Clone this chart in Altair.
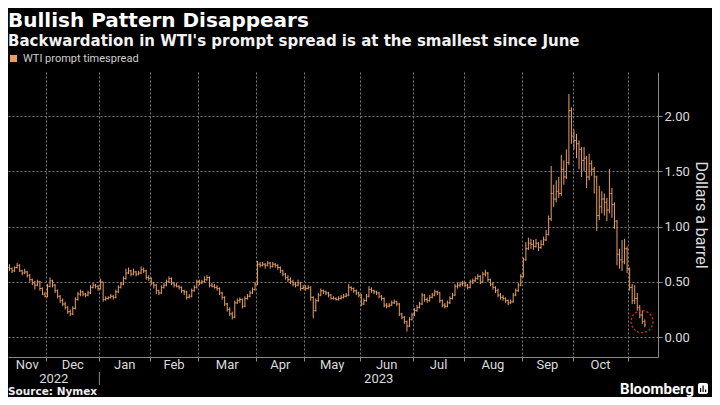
import altair as alt
import pandas as pd

# ---------------- text ----------------
TITLE = "Bullish Pattern Disappears"
SUBTITLE = "Backwardation in WTI's prompt spread is at the smallest since June"
SERIES = "WTI prompt timespread"
SOURCE = "Source: Nymex"
BRAND = "Bloomberg"
Y_TITLE = "Dollars a barrel"

# ---------------- calendar (trading days) ----------------
START = "2022-11-09"
END = "2023-11-09"
HOLIDAYS = ["2022-11-24", "2022-12-26", "2023-01-02", "2023-01-16", "2023-02-20",
            "2023-04-07", "2023-05-29", "2023-06-19", "2023-07-04", "2023-09-04"]
MONTH_LABELS = ["Nov", "Dec", "Jan", "Feb", "Mar", "Apr", "May", "Jun", "Jul", "Aug", "Sep", "Oct"]
YEAR_LABELS = ["2022", "2023"]
Y_TICKS = [0.0, 0.5, 1.0, 1.5, 2.0]

# ---------------- daily OHLC of the prompt spread ($/bbl) ----------------
opens = [
    0.63, 0.62, 0.60, 0.63, 0.65, 0.60, 0.58, 0.59, 0.56, 0.52,
    0.49, 0.47, 0.50, 0.44, 0.39, 0.37, 0.46, 0.51, 0.47, 0.42,
    0.37, 0.33, 0.30, 0.27, 0.23, 0.21, 0.26, 0.34, 0.39, 0.41,
    0.39, 0.38, 0.40, 0.45, 0.47, 0.46, 0.44, 0.50, 0.34, 0.35,
    0.36, 0.37, 0.36, 0.41, 0.45, 0.48, 0.53, 0.58, 0.60, 0.57,
    0.59, 0.57, 0.58, 0.61, 0.60, 0.54, 0.53, 0.49, 0.47, 0.42,
    0.40, 0.45, 0.47, 0.50, 0.53, 0.49, 0.47, 0.46, 0.45, 0.42,
    0.41, 0.36, 0.37, 0.42, 0.45, 0.50, 0.49, 0.50, 0.52, 0.54,
    0.47, 0.46, 0.45, 0.44, 0.40, 0.36, 0.30, 0.25, 0.21, 0.18,
    0.31, 0.33, 0.34, 0.28, 0.35, 0.37, 0.40, 0.43, 0.48, 0.66,
    0.65, 0.66, 0.65, 0.67, 0.64, 0.66, 0.65, 0.63, 0.60, 0.57,
    0.54, 0.52, 0.50, 0.48, 0.47, 0.49, 0.44, 0.45, 0.44, 0.45,
    0.36, 0.24, 0.33, 0.38, 0.42, 0.41, 0.40, 0.38, 0.35, 0.35,
    0.34, 0.35, 0.36, 0.37, 0.38, 0.45, 0.44, 0.42, 0.40, 0.38,
    0.30, 0.33, 0.37, 0.43, 0.42, 0.41, 0.40, 0.37, 0.35, 0.29,
    0.28, 0.29, 0.31, 0.32, 0.30, 0.21, 0.18, 0.14, 0.10, 0.16,
    0.20, 0.24, 0.27, 0.30, 0.38, 0.34, 0.33, 0.36, 0.38, 0.41,
    0.40, 0.33, 0.29, 0.28, 0.31, 0.35, 0.38, 0.46, 0.47, 0.48,
    0.49, 0.47, 0.45, 0.50, 0.51, 0.53, 0.55, 0.50, 0.57, 0.58,
    0.52, 0.48, 0.45, 0.42, 0.38, 0.36, 0.35, 0.33, 0.31, 0.32,
    0.38, 0.42, 0.47, 0.55, 0.70, 0.80, 0.85, 0.84, 0.82, 0.85,
    0.81, 0.84, 0.88, 0.93, 1.07, 1.30, 1.25, 1.32, 1.30, 1.52,
    1.45, 1.58, 2.05, 1.82, 1.78, 1.75, 1.70, 1.60, 1.62, 1.45,
    1.57, 1.52, 1.45, 1.10, 1.18, 1.25, 1.22, 1.15, 1.30, 1.20,
    1.05, 0.75, 0.70, 0.68, 0.80, 0.62, 0.45, 0.33, 0.35, 0.27,
    0.20, 0.14,
]
highs = [
    0.66, 0.63, 0.64, 0.67, 0.66, 0.61, 0.62, 0.60, 0.57, 0.53,
    0.51, 0.52, 0.51, 0.45, 0.41, 0.48, 0.54, 0.52, 0.48, 0.43,
    0.38, 0.35, 0.32, 0.28, 0.25, 0.28, 0.36, 0.41, 0.43, 0.42,
    0.40, 0.42, 0.47, 0.49, 0.48, 0.47, 0.53, 0.50, 0.37, 0.37,
    0.39, 0.38, 0.43, 0.47, 0.50, 0.55, 0.62, 0.63, 0.61, 0.62,
    0.60, 0.60, 0.64, 0.63, 0.61, 0.56, 0.54, 0.50, 0.48, 0.43,
    0.47, 0.49, 0.52, 0.55, 0.54, 0.50, 0.49, 0.47, 0.46, 0.43,
    0.42, 0.39, 0.44, 0.47, 0.52, 0.52, 0.52, 0.55, 0.56, 0.55,
    0.49, 0.48, 0.47, 0.45, 0.41, 0.37, 0.31, 0.27, 0.23, 0.33,
    0.35, 0.36, 0.35, 0.37, 0.39, 0.42, 0.45, 0.50, 0.69, 0.68,
    0.68, 0.67, 0.69, 0.68, 0.68, 0.67, 0.66, 0.64, 0.61, 0.58,
    0.56, 0.54, 0.52, 0.50, 0.52, 0.50, 0.47, 0.47, 0.47, 0.46,
    0.37, 0.35, 0.40, 0.44, 0.43, 0.42, 0.41, 0.39, 0.37, 0.36,
    0.37, 0.38, 0.39, 0.40, 0.48, 0.46, 0.45, 0.43, 0.41, 0.39,
    0.35, 0.39, 0.46, 0.45, 0.43, 0.42, 0.41, 0.38, 0.36, 0.31,
    0.31, 0.33, 0.34, 0.33, 0.31, 0.22, 0.19, 0.15, 0.18, 0.22,
    0.26, 0.29, 0.32, 0.40, 0.39, 0.36, 0.38, 0.40, 0.43, 0.42,
    0.41, 0.34, 0.31, 0.33, 0.37, 0.40, 0.48, 0.49, 0.50, 0.51,
    0.50, 0.48, 0.52, 0.53, 0.55, 0.57, 0.56, 0.59, 0.61, 0.59,
    0.53, 0.50, 0.46, 0.44, 0.40, 0.38, 0.36, 0.34, 0.34, 0.40,
    0.44, 0.49, 0.57, 0.72, 0.86, 0.90, 0.89, 0.88, 0.89, 0.86,
    0.88, 0.91, 0.97, 1.10, 1.55, 1.38, 1.42, 1.45, 1.65, 1.60,
    1.70, 2.20, 2.08, 1.88, 1.84, 1.78, 1.72, 1.72, 1.64, 1.66,
    1.60, 1.54, 1.46, 1.37, 1.32, 1.30, 1.26, 1.52, 1.35, 1.22,
    1.06, 0.80, 0.88, 0.89, 0.82, 0.63, 0.48, 0.47, 0.40, 0.29,
    0.24, 0.16,
]
lows = [
    0.60, 0.58, 0.59, 0.62, 0.59, 0.56, 0.57, 0.54, 0.50, 0.47,
    0.43, 0.46, 0.42, 0.38, 0.36, 0.36, 0.45, 0.45, 0.40, 0.35,
    0.31, 0.28, 0.25, 0.21, 0.19, 0.20, 0.25, 0.33, 0.37, 0.37,
    0.36, 0.37, 0.39, 0.44, 0.44, 0.42, 0.43, 0.32, 0.33, 0.34,
    0.35, 0.34, 0.35, 0.40, 0.44, 0.47, 0.52, 0.57, 0.55, 0.56,
    0.55, 0.56, 0.57, 0.58, 0.52, 0.51, 0.47, 0.44, 0.39, 0.38,
    0.39, 0.44, 0.46, 0.49, 0.47, 0.45, 0.45, 0.43, 0.40, 0.38,
    0.34, 0.35, 0.36, 0.41, 0.44, 0.47, 0.48, 0.49, 0.51, 0.45,
    0.45, 0.44, 0.42, 0.38, 0.34, 0.28, 0.23, 0.19, 0.16, 0.17,
    0.30, 0.31, 0.26, 0.27, 0.34, 0.36, 0.39, 0.42, 0.47, 0.63,
    0.64, 0.62, 0.64, 0.62, 0.63, 0.63, 0.61, 0.58, 0.55, 0.52,
    0.50, 0.48, 0.46, 0.45, 0.46, 0.42, 0.43, 0.42, 0.43, 0.33,
    0.17, 0.23, 0.32, 0.37, 0.39, 0.38, 0.36, 0.34, 0.34, 0.33,
    0.33, 0.34, 0.35, 0.36, 0.37, 0.42, 0.40, 0.38, 0.36, 0.28,
    0.29, 0.32, 0.36, 0.40, 0.39, 0.38, 0.35, 0.33, 0.27, 0.26,
    0.27, 0.28, 0.30, 0.28, 0.19, 0.16, 0.12, 0.05, 0.09, 0.15,
    0.19, 0.23, 0.26, 0.29, 0.32, 0.31, 0.32, 0.35, 0.37, 0.38,
    0.31, 0.27, 0.26, 0.27, 0.30, 0.34, 0.37, 0.44, 0.45, 0.46,
    0.45, 0.43, 0.44, 0.48, 0.50, 0.52, 0.48, 0.49, 0.55, 0.50,
    0.46, 0.43, 0.40, 0.36, 0.34, 0.33, 0.31, 0.29, 0.30, 0.31,
    0.37, 0.41, 0.46, 0.54, 0.69, 0.79, 0.80, 0.79, 0.81, 0.78,
    0.80, 0.83, 0.87, 0.92, 1.05, 1.18, 1.22, 1.26, 1.28, 1.38,
    1.43, 1.56, 1.75, 1.70, 1.62, 1.52, 1.45, 1.50, 1.35, 1.42,
    1.46, 1.30, 0.96, 1.06, 1.12, 1.10, 1.05, 1.12, 1.08, 0.98,
    0.65, 0.62, 0.60, 0.66, 0.58, 0.42, 0.30, 0.30, 0.24, 0.17,
    0.12, 0.09,
]
closes = [
    0.62, 0.60, 0.63, 0.65, 0.60, 0.58, 0.59, 0.56, 0.52, 0.49,
    0.47, 0.50, 0.44, 0.39, 0.37, 0.46, 0.51, 0.47, 0.42, 0.37,
    0.33, 0.30, 0.27, 0.23, 0.21, 0.26, 0.34, 0.39, 0.41, 0.39,
    0.38, 0.40, 0.45, 0.47, 0.46, 0.44, 0.50, 0.34, 0.35, 0.36,
    0.37, 0.36, 0.41, 0.45, 0.48, 0.53, 0.58, 0.60, 0.57, 0.59,
    0.57, 0.58, 0.61, 0.60, 0.54, 0.53, 0.49, 0.47, 0.42, 0.40,
    0.45, 0.47, 0.50, 0.53, 0.49, 0.47, 0.46, 0.45, 0.42, 0.41,
    0.36, 0.37, 0.42, 0.45, 0.50, 0.49, 0.50, 0.52, 0.54, 0.47,
    0.46, 0.45, 0.44, 0.40, 0.36, 0.30, 0.25, 0.21, 0.18, 0.31,
    0.33, 0.34, 0.28, 0.35, 0.37, 0.40, 0.43, 0.48, 0.66, 0.65,
    0.66, 0.65, 0.67, 0.64, 0.66, 0.65, 0.63, 0.60, 0.57, 0.54,
    0.52, 0.50, 0.48, 0.47, 0.49, 0.44, 0.45, 0.44, 0.45, 0.36,
    0.24, 0.33, 0.38, 0.42, 0.41, 0.40, 0.38, 0.35, 0.35, 0.34,
    0.35, 0.36, 0.37, 0.38, 0.45, 0.44, 0.42, 0.40, 0.38, 0.30,
    0.33, 0.37, 0.43, 0.42, 0.41, 0.40, 0.37, 0.35, 0.29, 0.28,
    0.29, 0.31, 0.32, 0.30, 0.21, 0.18, 0.14, 0.10, 0.16, 0.20,
    0.24, 0.27, 0.30, 0.38, 0.34, 0.33, 0.36, 0.38, 0.41, 0.40,
    0.33, 0.29, 0.28, 0.31, 0.35, 0.38, 0.46, 0.47, 0.48, 0.49,
    0.47, 0.45, 0.50, 0.51, 0.53, 0.55, 0.50, 0.57, 0.58, 0.52,
    0.48, 0.45, 0.42, 0.38, 0.36, 0.35, 0.33, 0.31, 0.32, 0.38,
    0.42, 0.47, 0.55, 0.70, 0.80, 0.85, 0.84, 0.82, 0.85, 0.81,
    0.84, 0.88, 0.93, 1.07, 1.30, 1.25, 1.32, 1.30, 1.52, 1.45,
    1.58, 2.05, 1.82, 1.78, 1.75, 1.70, 1.60, 1.62, 1.45, 1.57,
    1.52, 1.45, 1.10, 1.18, 1.25, 1.22, 1.15, 1.30, 1.20, 1.05,
    0.75, 0.70, 0.68, 0.80, 0.62, 0.45, 0.33, 0.35, 0.27, 0.20,
    0.14, 0.11,
]

# circled latest reading (trading-day index, value)
HIGHLIGHT_X = [249.9]
HIGHLIGHT_Y = [0.14]

# ---------------- styling ----------------
BG = "#000000"
BAR = "#e8a062"
GRID = "#7c7c7c"
AXIS = "#8a8a8a"
LABEL = "#dcdcdc"
RED = "#d8262b"
FONT = "Roboto"
HEAD = "DejaVu Sans"

X_MIN, X_MAX = -0.6, 256.2
Y_MIN, Y_MAX = -0.18, 2.4

# ---------------- data frames ----------------
dates = pd.bdate_range(START, END)
dates = dates[~dates.isin(pd.to_datetime(HOLIDAYS))]
df = pd.DataFrame({"date": dates, "open": opens, "high": highs, "low": lows, "close": closes})
df["i"] = range(len(df))
df["series"] = SERIES

grp = df.groupby(df["date"].dt.to_period("M"))["i"].agg(["min", "max"])
firsts = grp["min"].tolist()
lasts = grp["max"].tolist()
boundaries = [f - 0.5 for f in firsts[1:]]
month_df = pd.DataFrame({
    "label": MONTH_LABELS,
    "c": [(firsts[k] - 0.5 + lasts[k] + 0.5) / 2 for k in range(len(MONTH_LABELS))],
})
year_break = float(df.loc[df["date"].dt.year == 2023, "i"].min()) - 0.5
year_df = pd.DataFrame({"label": YEAR_LABELS,
                        "c": [(-0.5 + year_break) / 2, (year_break + X_MAX) / 2]})
sep_df = pd.DataFrame({"b": [year_break]})
hl_df = pd.DataFrame({"hx": HIGHLIGHT_X, "hy": HIGHLIGHT_Y})

xs = alt.Scale(domain=[X_MIN, X_MAX], nice=False, zero=False)
ys = alt.Scale(domain=[Y_MIN, Y_MAX], nice=False, zero=False)

x_axis = alt.Axis(values=boundaries, labels=False, title=None, grid=True, gridColor=GRID,
                  gridDash=[2, 2], gridWidth=1, gridOpacity=1, tickColor=AXIS, tickSize=4,
                  tickWidth=1, domainColor=AXIS, domainWidth=1)
y_axis = alt.Axis(orient="right", values=Y_TICKS, format=".2f", grid=True, gridColor=GRID,
                  gridDash=[2, 2], gridWidth=1, gridOpacity=1, tickColor=AXIS, tickSize=4,
                  domainColor=AXIS, domainWidth=1, labelColor=LABEL, labelFont=FONT,
                  labelFontSize=13, labelPadding=2, title=Y_TITLE, titleColor=LABEL,
                  titleFont=FONT, titleFontSize=16, titleFontWeight="normal", titlePadding=3)

base = alt.Chart(df)

ranges = base.mark_rule(strokeWidth=1).encode(
    x=alt.X("i:Q", scale=xs, axis=x_axis),
    y=alt.Y("low:Q", scale=ys, axis=y_axis),
    y2="high:Q",
    color=alt.Color("series:N", scale=alt.Scale(domain=[SERIES], range=[BAR]),
                    legend=alt.Legend(orient="none", legendX=0, legendY=-19, title=None,
                                      symbolType="square", symbolSize=50,
                                      symbolFillColor=BAR, symbolStrokeColor=BAR,
                                      symbolStrokeWidth=0, labelColor="#cfcfcf",
                                      labelFont=FONT, labelFontSize=11, labelOffset=4,
                                      padding=0)),
)
open_ticks = base.transform_calculate(xa="datum.i - 0.45").mark_rule(
    strokeWidth=1, color=BAR).encode(
    x=alt.X("xa:Q", scale=xs, axis=x_axis), x2="i:Q",
    y=alt.Y("open:Q", scale=ys, axis=y_axis))
close_ticks = base.transform_calculate(xb="datum.i + 0.45").mark_rule(
    strokeWidth=1, color=BAR).encode(
    x=alt.X("i:Q", scale=xs, axis=x_axis), x2="xb:Q",
    y=alt.Y("close:Q", scale=ys, axis=y_axis))

months = alt.Chart(month_df).mark_text(color=LABEL, font=FONT, fontSize=13,
                                       baseline="alphabetic").encode(
    x=alt.X("c:Q", scale=xs, axis=x_axis), y=alt.value(297), text="label:N")
years = alt.Chart(year_df).mark_text(color=LABEL, font=FONT, fontSize=13,
                                     baseline="alphabetic").encode(
    x=alt.X("c:Q", scale=xs, axis=x_axis), y=alt.value(311), text="label:N")
year_sep = alt.Chart(sep_df).mark_rule(color=AXIS, strokeWidth=1).encode(
    x=alt.X("b:Q", scale=xs, axis=x_axis), y=alt.value(300), y2=alt.value(313))

circle = alt.Chart(hl_df).mark_point(shape="circle", size=480, filled=False, color=RED,
                                     strokeWidth=1.3, strokeDash=[2, 2], opacity=1).encode(
    x=alt.X("hx:Q", scale=xs, axis=x_axis), y=alt.Y("hy:Q", scale=ys, axis=y_axis))


def label(text, x, y, size, weight="normal", color="#ffffff", align="left", font=FONT):
    return alt.Chart(pd.DataFrame({"t": [text]})).mark_text(
        align=align, baseline="alphabetic", font=font, fontSize=size,
        fontWeight=weight, color=color).encode(
        x=alt.value(x), y=alt.value(y), text="t:N")


title = label(TITLE, 0, -45, 20, "bold", "#ffffff", font=HEAD)
subtitle = label(SUBTITLE, 0, -26, 15, "bold", "#f2f2f2", font=HEAD)
source = label(SOURCE, 0, 323, 10.5, "bold", "#eeeeee", font=HEAD)
brand = label(BRAND, 686, 322, 15, "bold", "#ffffff", "right")

icon = alt.Chart(pd.DataFrame({"k": [1]})).mark_rect(color="#ffffff", cornerRadius=2).encode(
    x=alt.value(690), x2=alt.value(700), y=alt.value(311), y2=alt.value(322))
# small bar glyph inside the logo badge
glyph_df = pd.DataFrame({"x0": [692.0, 694.5, 697.0], "x1": [693.2, 695.7, 698.2],
                         "y0": [316.0, 313.5, 317.5]})
glyph = alt.Chart(glyph_df).mark_rect(color="#000000").encode(
    x=alt.X("x0:Q", scale=None, axis=None), x2="x1:Q",
    y=alt.Y("y0:Q", scale=None, axis=None), y2=alt.value(320))

chart = alt.layer(
    ranges, open_ticks, close_ticks, circle, months, years, year_sep,
    title, subtitle, source, brand, icon, glyph,
).properties(
    width=650, height=285, background=BG,
    padding={"left": 0, "top": 64, "right": 54, "bottom": 40},
    autosize=alt.AutoSizeParams(type="none"),
).configure_view(strokeWidth=0)

chart.save("out.html", embed_options={"renderer": "svg", "actions": False})
